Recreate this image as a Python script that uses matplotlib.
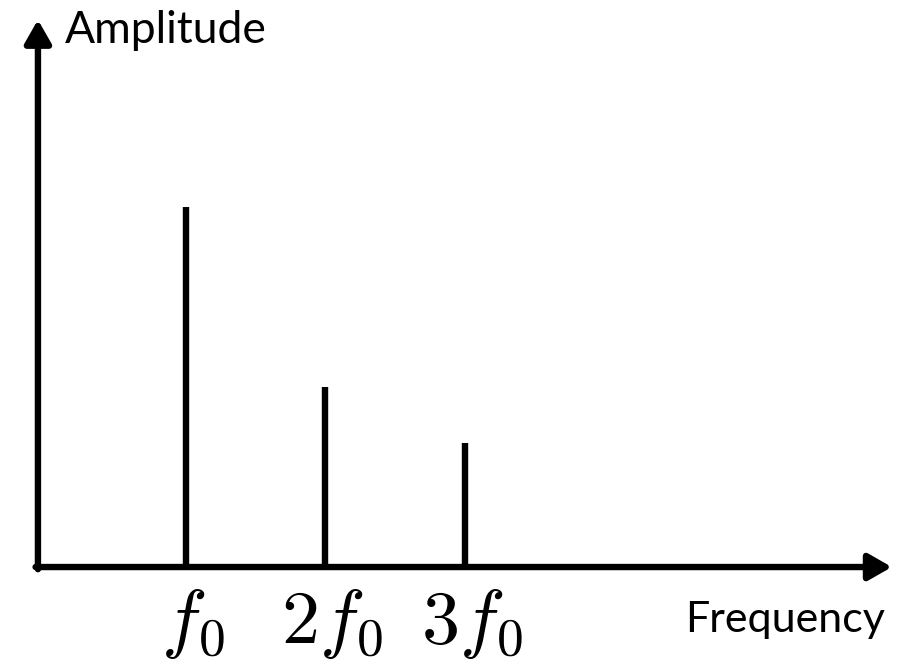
import matplotlib
matplotlib.use("Agg")
import matplotlib.pyplot as plt

plt.rcParams['mathtext.fontset'] = 'cm'

# Harmonic line spectrum
harmonics = [1, 2, 3]
amplitudes = [1.0, 0.5, 0.345]
tick_labels = [r'$f_0$', r'$2f_0$', r'$3f_0$']

fig = plt.figure(figsize=(9.1, 6.61), dpi=100)
ax = fig.add_axes([0, 0, 1, 1])
ax.set_xlim(-0.333, 6.19)
ax.set_ylim(-0.261, 1.575)
ax.axis('off')

# spectral lines
ax.vlines(harmonics, 0, amplitudes, color='black', linewidth=4.6)

# axes with arrowheads
arrow = dict(arrowstyle='-|>,head_length=0.7,head_width=0.4', lw=4.6,
             color='black', shrinkA=0, shrinkB=0, mutation_scale=20)
ax.annotate('', xy=(6.06, 0), xytext=(-0.078, 0), arrowprops=arrow)
ax.annotate('', xy=(-0.061, 1.52), xytext=(-0.061, -0.006), arrowprops=arrow)

for h, lab in zip(harmonics, tick_labels):
    ax.text(h + 0.05, -0.158, lab, ha='center', va='center', fontsize=55)

ax.text(0.133, 1.49, 'Amplitude', ha='left', va='center', fontsize=32,
        family='Lato')
ax.text(4.577, -0.147, 'Frequency', ha='left', va='center', fontsize=31,
        family='Lato')

fig.savefig('out.png', dpi=100)
